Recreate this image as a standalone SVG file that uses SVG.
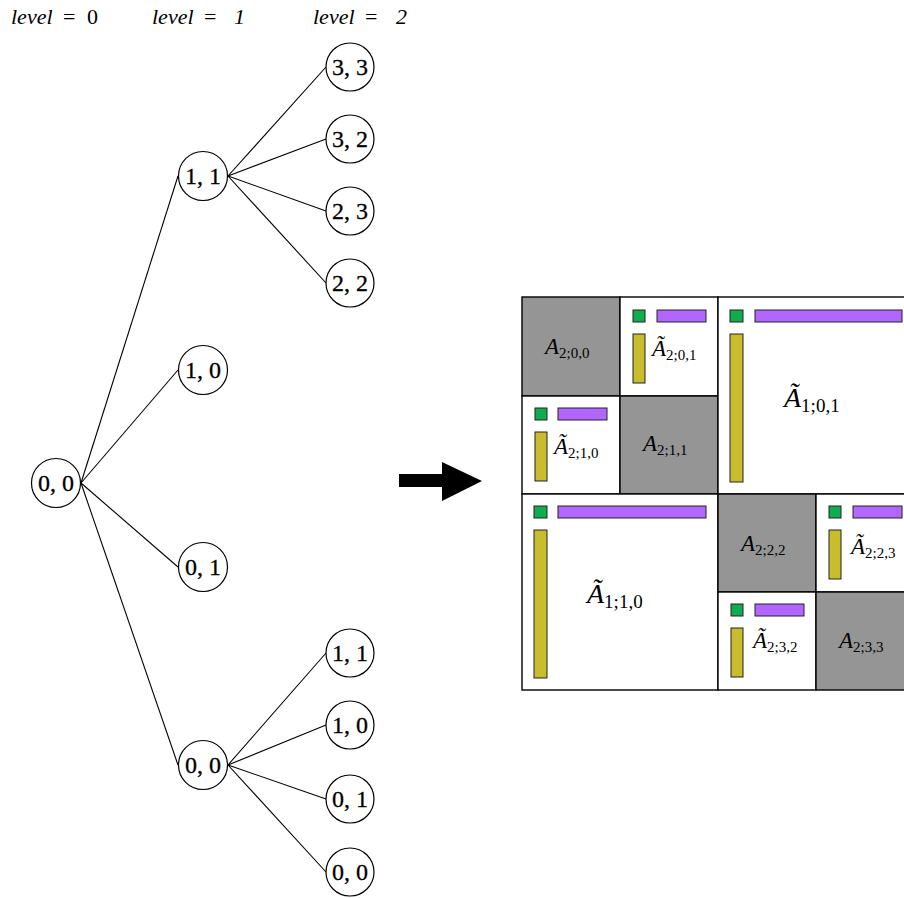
<svg xmlns="http://www.w3.org/2000/svg" width="904" height="898" viewBox="0 0 904 898">
<style>
.lbl{font-family:"Liberation Serif","DejaVu Serif",serif;font-size:22px;fill:#000}
.it{font-style:italic}
.nd circle{fill:#fff;stroke:#000;stroke-width:1.2}
.nd text{font-family:"Liberation Serif","DejaVu Serif",serif;font-size:24px;text-anchor:middle;fill:#000;stroke:#000;stroke-width:0.3}
.edges line{stroke:#000;stroke-width:1.1}
.cell{stroke:#000;stroke-width:1.4}
.g{fill:#959595}
.w{fill:#fff}
.sq{fill:#10ad4f;stroke:#222;stroke-width:1}
.pu{fill:#b366ff;stroke:#222;stroke-width:1}
.ye{fill:#c9bd2d;stroke:#222;stroke-width:1}
.m{font-family:"Liberation Serif","DejaVu Serif",serif;fill:#000}
.A{font-style:italic;font-size:23px}
.s{font-size:15px}
.AL{font-style:italic;font-size:28px}
.sL{font-size:19px}
</style>
<g id="levels">
<text class="lbl" x="11" y="24"><tspan class="it">level</tspan><tspan x="63">=</tspan><tspan x="87">0</tspan></text>
<text class="lbl" x="152" y="24"><tspan class="it">level</tspan><tspan x="204">=</tspan><tspan class="it" x="234">1</tspan></text>
<text class="lbl" x="313" y="24"><tspan class="it">level</tspan><tspan x="365">=</tspan><tspan class="it" x="396">2</tspan></text>
</g>
<g class="edges" id="connectors">
<line x1="81" y1="483" x2="178" y2="176"/>
<line x1="81" y1="483" x2="178" y2="370"/>
<line x1="81" y1="483" x2="178" y2="567"/>
<line x1="81" y1="483" x2="178" y2="765"/>
<line x1="228" y1="176" x2="326" y2="67"/>
<line x1="228" y1="176" x2="326" y2="139"/>
<line x1="228" y1="176" x2="326" y2="211"/>
<line x1="228" y1="176" x2="326" y2="283"/>
<line x1="228" y1="765" x2="326" y2="653"/>
<line x1="228" y1="765" x2="326" y2="725"/>
<line x1="228" y1="765" x2="326" y2="799"/>
<line x1="228" y1="765" x2="326" y2="872"/>
</g>
<g class="nd" id="n00"><circle cx="56" cy="483" r="24.5"/><text x="56" y="491">0, 0</text></g>
<g class="nd" id="n11"><circle cx="203" cy="176" r="24.5"/><text x="203" y="184">1, 1</text></g>
<g class="nd" id="n10"><circle cx="203" cy="370" r="24.5"/><text x="203" y="378">1, 0</text></g>
<g class="nd" id="n01"><circle cx="203" cy="567" r="24.5"/><text x="203" y="575">0, 1</text></g>
<g class="nd" id="n00b"><circle cx="203" cy="765" r="24.5"/><text x="203" y="773">0, 0</text></g>
<g class="nd" id="n33"><circle cx="350" cy="67" r="24"/><text x="350" y="75">3, 3</text></g>
<g class="nd" id="n32"><circle cx="350" cy="139" r="24"/><text x="350" y="147">3, 2</text></g>
<g class="nd" id="n23"><circle cx="350" cy="211" r="24"/><text x="350" y="219">2, 3</text></g>
<g class="nd" id="n22"><circle cx="350" cy="283" r="24"/><text x="350" y="291">2, 2</text></g>
<g class="nd" id="m11"><circle cx="350" cy="653" r="24"/><text x="350" y="661">1, 1</text></g>
<g class="nd" id="m10"><circle cx="350" cy="725" r="24"/><text x="350" y="733">1, 0</text></g>
<g class="nd" id="m01"><circle cx="350" cy="799" r="24"/><text x="350" y="807">0, 1</text></g>
<g class="nd" id="m00"><circle cx="350" cy="872" r="24"/><text x="350" y="880">0, 0</text></g>
<g id="arrow"><polygon points="399,474 442,474 442,462 482,481 442,501 442,487 399,487" fill="#000"/></g>
<g id="matrix">
<rect class="cell g" x="522" y="297" width="98" height="99"/>
<rect class="cell w" x="620" y="297" width="98" height="99"/>
<rect class="cell w" x="522" y="396" width="98" height="98"/>
<rect class="cell g" x="620" y="396" width="98" height="98"/>
<rect class="cell w" x="718" y="297" width="196" height="197"/>
<rect class="cell w" x="522" y="494" width="196" height="196"/>
<rect class="cell g" x="718" y="494" width="98" height="98"/>
<rect class="cell w" x="816" y="494" width="98" height="98"/>
<rect class="cell w" x="718" y="592" width="98" height="98"/>
<rect class="cell g" x="816" y="592" width="98" height="98"/>
</g>
<g id="bars">
<rect class="sq" x="633" y="310" width="12" height="12"/><rect class="pu" x="657" y="310" width="49" height="12"/><rect class="ye" x="633" y="334" width="12" height="49"/>
<rect class="sq" x="535" y="408" width="12" height="12"/><rect class="pu" x="558" y="408" width="49" height="12"/><rect class="ye" x="535" y="432" width="12" height="49"/>
<rect class="sq" x="730" y="310" width="13" height="12"/><rect class="pu" x="755" y="310" width="147" height="12"/><rect class="ye" x="730" y="334" width="13" height="148"/>
<rect class="sq" x="534" y="506" width="13" height="12"/><rect class="pu" x="558" y="506" width="148" height="12"/><rect class="ye" x="534" y="530" width="13" height="148"/>
<rect class="sq" x="829" y="506" width="12" height="12"/><rect class="pu" x="853" y="506" width="49" height="12"/><rect class="ye" x="829" y="530" width="12" height="49"/>
<rect class="sq" x="731" y="604" width="12" height="12"/><rect class="pu" x="755" y="604" width="49" height="12"/><rect class="ye" x="731" y="628" width="12" height="49"/>
</g>
<g id="labels">
<text class="m" x="545" y="354"><tspan class="A">A</tspan><tspan class="s" dy="4">2;0,0</tspan></text>
<text class="m" x="652" y="356"><tspan class="A">Ã</tspan><tspan class="s" dy="4">2;0,1</tspan></text>
<text class="m" x="554" y="454"><tspan class="A">Ã</tspan><tspan class="s" dy="4">2;1,0</tspan></text>
<text class="m" x="643" y="451"><tspan class="A">A</tspan><tspan class="s" dy="4">2;1,1</tspan></text>
<text class="m" x="784" y="407"><tspan class="AL">Ã</tspan><tspan class="sL" dy="5">1;0,1</tspan></text>
<text class="m" x="587" y="603"><tspan class="AL">Ã</tspan><tspan class="sL" dy="5">1;1,0</tspan></text>
<text class="m" x="741" y="551"><tspan class="A">A</tspan><tspan class="s" dy="4">2;2,2</tspan></text>
<text class="m" x="851" y="554"><tspan class="A">Ã</tspan><tspan class="s" dy="4">2;2,3</tspan></text>
<text class="m" x="753" y="648"><tspan class="A">Ã</tspan><tspan class="s" dy="4">2;3,2</tspan></text>
<text class="m" x="839" y="648"><tspan class="A">A</tspan><tspan class="s" dy="4">2;3,3</tspan></text>
</g>
</svg>
